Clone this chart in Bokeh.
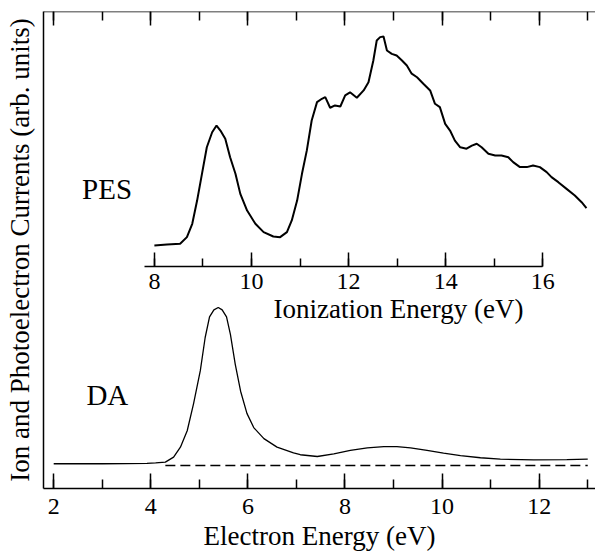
from bokeh.plotting import figure
from bokeh.models import (Range1d, LinearAxis, SingleIntervalTicker, FixedTicker, Label,
                          ColumnDataSource, CustomLabelingPolicy)
from bokeh.embed import file_html
from bokeh.resources import INLINE

# ---- DA (dissociative attachment) ion current vs electron energy ----
da_energy = [2.0, 2.5, 3.0, 3.5, 3.92, 4.10, 4.30, 4.47, 4.61, 4.75, 4.88, 5.02, 5.12,
             5.21, 5.30, 5.39, 5.47, 5.56, 5.64, 5.74, 5.85, 5.98, 6.12, 6.33, 6.60,
             6.94, 7.08, 7.43, 7.77, 8.11, 8.46, 8.80, 9.07, 9.35, 9.69, 10.03, 10.38,
             10.79, 11.20, 11.89, 12.57, 13.0]
da_current = [0.011, 0.011, 0.011, 0.012, 0.013, 0.016, 0.021, 0.053, 0.116, 0.22, 0.39,
              0.60, 0.81, 0.94, 0.985, 1.0, 0.985, 0.94, 0.83, 0.64, 0.47, 0.33, 0.24,
              0.17, 0.116, 0.080, 0.068, 0.057, 0.074, 0.095, 0.112, 0.12, 0.12, 0.112,
              0.095, 0.078, 0.063, 0.049, 0.040, 0.036, 0.037, 0.040]
baseline_energy = [4.30, 13.0]
baseline_level = [0.0, 0.0]

# ---- PES photoelectron current vs ionization energy ----
pes_energy = [8.00, 8.26, 8.53, 8.67, 8.78, 8.88, 8.98, 9.08, 9.19, 9.28, 9.36, 9.46,
              9.56, 9.67, 9.77, 9.91, 10.08, 10.25, 10.45, 10.59, 10.73, 10.83, 10.94,
              11.04, 11.14, 11.24, 11.35, 11.45, 11.52, 11.62, 11.72, 11.83, 11.93, 12.03,
              12.17, 12.31, 12.41, 12.51, 12.58, 12.65, 12.72, 12.79, 12.89, 12.99, 13.10,
              13.20, 13.30, 13.41, 13.54, 13.68, 13.78, 13.88, 13.99, 14.09, 14.19, 14.30,
              14.43, 14.54, 14.64, 14.74, 14.88, 15.02, 15.15, 15.29, 15.39, 15.53, 15.67,
              15.80, 15.94, 16.08, 16.18, 16.32, 16.49, 16.66, 16.80, 16.90]
pes_current = [0.000, 0.005, 0.008, 0.040, 0.104, 0.215, 0.343, 0.470, 0.542, 0.574, 0.550,
               0.511, 0.422, 0.343, 0.247, 0.167, 0.104, 0.064, 0.043, 0.040, 0.064, 0.120,
               0.215, 0.343, 0.455, 0.598, 0.686, 0.702, 0.710, 0.659, 0.670, 0.665, 0.718,
               0.733, 0.707, 0.742, 0.781, 0.885, 0.981, 0.997, 1.000, 0.933, 0.917, 0.909,
               0.885, 0.861, 0.822, 0.805, 0.774, 0.742, 0.678, 0.662, 0.582, 0.550, 0.502,
               0.470, 0.463, 0.478, 0.487, 0.470, 0.439, 0.431, 0.431, 0.422, 0.399, 0.375,
               0.375, 0.383, 0.375, 0.351, 0.327, 0.303, 0.271, 0.239, 0.207, 0.179]

FONT = "Liberation Serif"

p = figure(width=595, height=554, output_backend="svg", toolbar_location=None,
           x_range=Range1d(1.79, 13.16), y_range=Range1d(-0.1456, 2.873),
           x_axis_type=None, y_axis_type=None,
           min_border_left=43, min_border_right=0, min_border_top=11, min_border_bottom=66)
p.outline_line_color = None
p.extra_x_ranges = {"ion": Range1d(5.716, 17.086)}
p.extra_y_ranges = {"pes": Range1d(-1.1627, 1.1196)}


def style_axis(ax, tin=14, tmin=8):
    ax.axis_line_color = "black"
    ax.axis_line_width = 1.5
    ax.major_tick_line_color = "black"
    ax.minor_tick_line_color = "black"
    ax.major_tick_line_width = 1.5
    ax.minor_tick_line_width = 1.5
    ax.major_tick_in = tin
    ax.major_tick_out = 0
    ax.minor_tick_in = tmin
    ax.minor_tick_out = 0
    ax.major_label_text_font = FONT
    ax.major_label_text_color = "black"
    ax.major_label_text_font_size = "24px"
    ax.axis_label_text_font = FONT
    ax.axis_label_text_font_style = "normal"
    ax.axis_label_text_color = "black"
    ax.axis_label_text_font_size = "27px"


def title_only_axis(ax):
    ax.axis_line_color = None
    ax.major_tick_line_color = None
    ax.minor_tick_line_color = None
    ax.major_label_standoff = 0


# main bottom axis: inward ticks + tick labels
xb = LinearAxis(ticker=SingleIntervalTicker(interval=2, num_minor_ticks=2))
style_axis(xb, 15, 9)
xb.major_label_standoff = 10
p.add_layout(xb, "below")

# main bottom axis title (centred as in the original, wider frame)
xb_title = LinearAxis(ticker=FixedTicker(ticks=[]), bounds=(3.0, 12.52),
                      axis_label="Electron Energy (eV)")
style_axis(xb_title)
title_only_axis(xb_title)
xb_title.axis_label_standoff = 4
p.add_layout(xb_title, "below")

# top mirror axis: inward ticks only
xt = LinearAxis(y_range_name="pes", fixed_location=1.119,
                ticker=SingleIntervalTicker(interval=2, num_minor_ticks=2),
                major_label_policy=CustomLabelingPolicy(code="return []"))
style_axis(xt, 14, 9)
xt.major_label_standoff = 0
p.add_layout(xt, "above")

# left axis (no ticks)
yl = LinearAxis(ticker=FixedTicker(ticks=[]),
                axis_label="Ion and Photoelectron Currents (arb. units)")
style_axis(yl)
yl.major_label_standoff = 0
yl.axis_label_standoff = 9
p.add_layout(yl, "left")

# inset ionization energy axis
xi = LinearAxis(x_range_name="ion", y_range_name="pes", fixed_location=-0.099,
                bounds=(7.79, 16.0),
                ticker=SingleIntervalTicker(interval=2, num_minor_ticks=2))
style_axis(xi, 14, 8)
xi.major_label_standoff = 8
p.add_layout(xi, "below")

xi_title = LinearAxis(x_range_name="ion", y_range_name="pes", fixed_location=-0.099,
                      bounds=(9.0, 17.06), ticker=FixedTicker(ticks=[]),
                      axis_label="Ionization Energy (eV)")
style_axis(xi_title)
title_only_axis(xi_title)
xi_title.axis_label_standoff = 27
p.add_layout(xi_title, "below")

# curves
da_src = ColumnDataSource(dict(x=da_energy, y=da_current))
p.line("x", "y", source=da_src, line_color="black", line_width=1.3)
p.line(baseline_energy, baseline_level, line_color="black", line_width=1.3, line_dash="10 5")
pes_src = ColumnDataSource(dict(x=pes_energy, y=pes_current))
p.line("x", "y", source=pes_src, x_range_name="ion", y_range_name="pes",
       line_color="black", line_width=2.0)

p.add_layout(Label(x=2.585, y=1.747, text="PES", text_font=FONT, text_font_size="29px",
                   text_color="black", text_baseline="alphabetic"))
p.add_layout(Label(x=2.674, y=0.443, text="DA", text_font=FONT, text_font_size="29px",
                   text_color="black", text_baseline="alphabetic"))

open("out.html", "w").write(file_html(p, INLINE))
